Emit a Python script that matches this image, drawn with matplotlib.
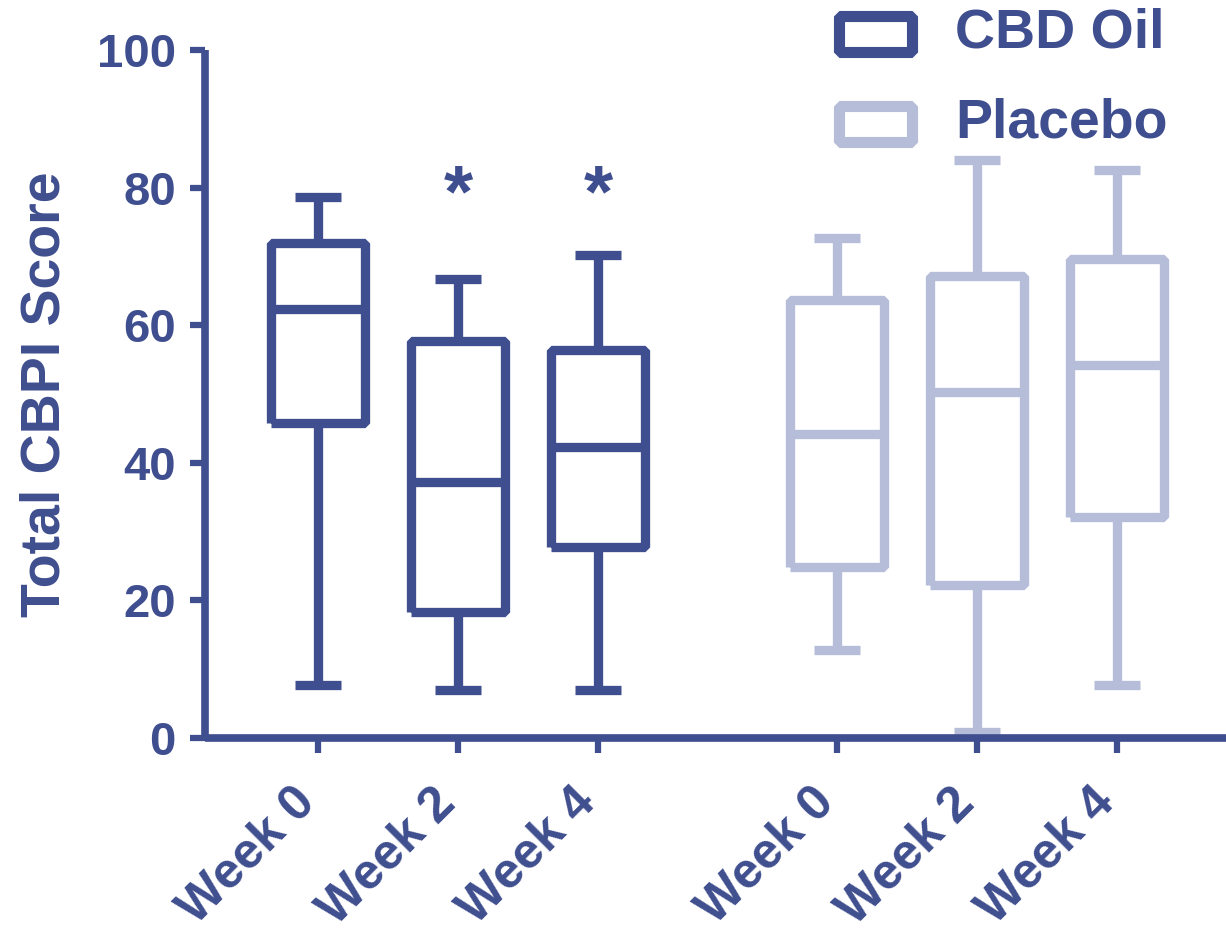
"""Total CBPI score box plots: CBD oil vs placebo over 4 weeks."""
import matplotlib
matplotlib.use("Agg")
import matplotlib.pyplot as plt
import matplotlib.transforms as mtransforms
from matplotlib.patches import Rectangle

plt.rcParams["font.family"] = ["Liberation Sans", "DejaVu Sans"]
plt.rcParams["font.weight"] = "bold"
plt.rcParams["axes.labelweight"] = "bold"

DARK = "#3f4e8e"
LIGHT = "#b6bdd8"

# box stats (whisker low, Q1, median, Q3, whisker high)
week_labels = ["Week 0", "Week 2", "Week 4", "Week 0", "Week 2", "Week 4"]
positions = [1, 2, 3, 4.71, 5.71, 6.71]
cbd_whislo = [7.7, 7.0, 7.0]
cbd_q1 = [45.8, 18.3, 27.8]
cbd_med = [62.3, 37.2, 42.3]
cbd_q3 = [71.9, 57.7, 56.4]
cbd_whishi = [78.6, 66.7, 70.2]
pla_whislo = [12.8, 0.9, 7.7]
pla_q1 = [24.9, 22.2, 32.1]
pla_med = [44.2, 50.3, 54.2]
pla_q3 = [63.7, 67.2, 69.6]
pla_whishi = [72.7, 84.0, 82.6]
signif_idx = [1, 2]  # CBD weeks 2 and 4 marked with *
signif_y = 78.6


def make_stats(lo, q1, med, q3, hi):
    return [dict(whislo=a, q1=b, med=c, q3=d, whishi=e, fliers=[])
            for a, b, c, d, e in zip(lo, q1, med, q3, hi)]


fig = plt.figure(figsize=(12.26, 9.35), dpi=100)
ax = fig.add_axes([205 / 1226, 1 - 738 / 935, 1 - 205 / 1226, 688 / 935])

groups = [
    (make_stats(cbd_whislo, cbd_q1, cbd_med, cbd_q3, cbd_whishi), positions[:3], DARK),
    (make_stats(pla_whislo, pla_q1, pla_med, pla_q3, pla_whishi), positions[3:], LIGHT),
]
for stats, pos, color in groups:
    line = dict(color=color, linewidth=6.7, solid_capstyle="butt", solid_joinstyle="bevel")
    ax.bxp(stats, positions=pos, widths=0.67, capwidths=0.33, showfliers=False,
           boxprops=line, whiskerprops=line, capprops=line, medianprops=line,
           manage_ticks=False)

for artist in ax.lines:
    artist.set_clip_on(False)

for i in signif_idx:
    ax.text(positions[i], signif_y, "*", ha="center", va="center",
            fontsize=54, color=DARK, fontweight="bold")

ax.set_xlim(0.193, 7.486)
ax.set_ylim(0, 100)
ax.set_yticks([0, 20, 40, 60, 80, 100])
ax.set_xticks(positions)
ax.set_xticklabels(week_labels, rotation=45, ha="right", rotation_mode="anchor")

for side in ("top", "right"):
    ax.spines[side].set_visible(False)
for side in ("left", "bottom"):
    ax.spines[side].set_color(DARK)
    ax.spines[side].set_linewidth(5.5)
    ax.spines[side].set_capstyle("butt")
ax.tick_params(axis="both", colors=DARK, width=4.5, length=11)
ax.tick_params(axis="y", labelsize=34, pad=10)
ax.tick_params(axis="x", labelsize=36, pad=19)
shift = mtransforms.ScaledTranslation(-26 / 100, 0, fig.dpi_scale_trans)
for lbl in ax.get_xticklabels():
    lbl.set_transform(lbl.get_transform() + shift)
ax.set_ylabel("Total CBPI Score", fontsize=40, color=DARK, labelpad=18)

# legend drawn by hand in figure pixels
W, H = 1226, 935
for (y0, y1), color, label in [((16.5, 51.5), DARK, "CBD Oil"),
                               ((105.5, 141.5), LIGHT, "Placebo")]:
    fig.patches.append(Rectangle((838.5 / W, 1 - y1 / H), 73 / W, (y1 - y0) / H,
                                 transform=fig.transFigure, fill=False,
                                 edgecolor=color, linewidth=8, joinstyle="bevel"))
    fig.text(955 / W, 1 - (y0 + y1) / 2 / H, label, fontsize=40, color=DARK,
             va="center", ha="left")

fig.savefig("out.png", dpi=100)
